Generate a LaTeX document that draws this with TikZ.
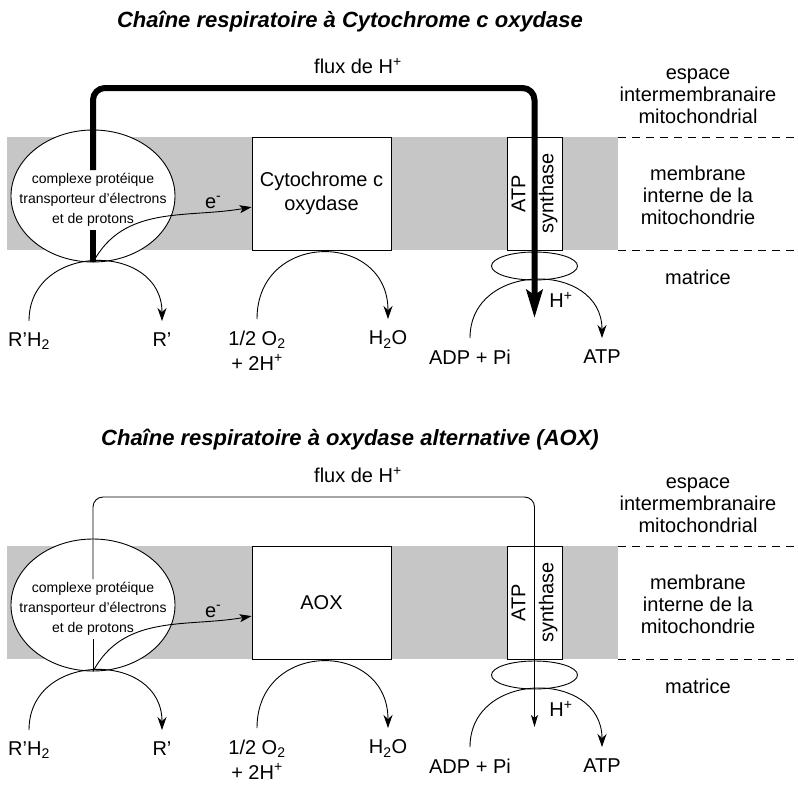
\documentclass[tikz,border=0pt]{standalone}
\usepackage{fontspec}
\setmainfont{Liberation Sans}
\usetikzlibrary{arrows.meta,shapes.geometric}

\tikzset{
	membrane/.style={fill=gray!45, draw=none},
	limite/.style={dash pattern=on 8pt off 6pt, line width=0.8pt},
	boite/.style={draw, fill=white, line width=0.9pt, inner sep=0pt, align=center, font=\fontsize{20}{24}\selectfont},
	complexe/.style={ellipse, draw, fill=white, line width=0.9pt, inner sep=0pt, minimum width=164pt, minimum height=132pt},
	sousunite/.style={ellipse, draw, fill=white, line width=0.9pt, inner sep=0pt, minimum width=86pt, minimum height=28pt},
	etiq/.style={align=center, inner sep=0pt, font=\fontsize{20}{22}\selectfont},
	petit/.style={align=center, inner xsep=0pt, inner ysep=3pt, font=\fontsize{14}{20}\selectfont},
	reac/.style={anchor=north, align=center, inner sep=0pt, outer ysep=12pt, font=\fontsize{20}{22}\selectfont},
	titre/.style={inner sep=0pt, font=\fontsize{22}{24}\selectfont\bfseries\itshape},
	reaction/.style={line width=0.9pt, -{Stealth[length=13pt,width=9pt,inset=4pt]}, out=90, in=90},
	electron/.style={line width=0.9pt, -{Stealth[length=12pt,width=8pt,inset=3pt]}},
	fluxfort/.style={line width=6pt, rounded corners=12pt, -{Stealth[length=28pt,width=16pt,inset=5pt]}},
	fluxfin/.style={line width=0.9pt, rounded corners=10pt, -{Stealth[length=12pt,width=7pt,inset=3pt]}},
}

% #1 prefixe des noms, #2 texte de l'oxydase, #3 style du flux de protons
\newcommand{\chaine}[3]{%
	\fill[membrane] (7,137) rectangle (618,250);
	\draw[limite] (618,137) -- (798,137) (618,250) -- (798,250);
	\node[boite, minimum width=139pt, minimum height=113pt] (#1-oxy) at (321.5,193.5) {#2};
	\node[boite, rotate=90, minimum width=113pt, minimum height=55pt] (#1-atps) at (534.5,193.5) {ATP\\[4pt]synthase};
	\node[sousunite] (#1-f1) at (534.5,266) {};
	\node[complexe] (#1-cplx) at (93,196) {};
	\node[petit] (#1-txt) at (93,200) {complexe protéique\\transporteur d'électrons\\et de protons};
	\node[etiq] (#1-flux) at (358,66) {flux de H\textsuperscript{+}};
	\node[etiq] (#1-espace) at (698,96) {espace\\intermembranaire\\mitochondrial};
	\node[etiq] (#1-memb) at (698,195) {membrane\\interne de la\\mitochondrie};
	\node[etiq] (#1-matrice) at (698,277) {matrice};
	\node[reac] (#1-rh2) at (29,321) {R'H\textsubscript{2}};
	\node[reac] (#1-r) at (162,321) {R'};
	\node[reac] (#1-o2) at (257,319) {1/2 O\textsubscript{2}\\[3pt]+ 2H\textsuperscript{+}};
	\node[reac] (#1-h2o) at (388,319) {H\textsubscript{2}O};
	\node[reac] (#1-adp) at (470,338) {ADP + Pi};
	\node[reac] (#1-atp) at (602,338) {ATP};
	\node[etiq] (#1-hlab) at (561,300) {H\textsuperscript{+}};
	\coordinate (#1-coin) at (93,88);
	\coordinate (#1-hplus) at (534.5,318);
	\draw[reaction, looseness=1.53] (#1-rh2) to (#1-r);
	\draw[reaction, looseness=1.73] (#1-o2) to (#1-h2o);
	\draw[reaction, looseness=1.5] (#1-adp) to (#1-atp);
	\draw[electron] (#1-cplx.south) to[out=62, in=190] node[etiq, pos=0.8, above=3pt] {e\textsuperscript{-}} (#1-oxy.191);
	\draw[#3, -] (#1-cplx.south) -- (#1-cplx.south |- #1-txt.south);
	\draw[#3] (#1-cplx.south |- #1-txt.north) -- (#1-coin) -| (#1-hplus);
}

\begin{document}
\begin{tikzpicture}[x=1pt, y=-1pt]
	\useasboundingbox (0,0) rectangle (798,801);
	\node[titre] (titre1) at (350,22) {Chaîne respiratoire à Cytochrome c oxydase};
	\node[titre] (titre2) at (350,440) {Chaîne respiratoire à oxydase alternative (AOX)};
	\chaine{c}{Cytochrome c\\oxydase}{fluxfort}
	\begin{scope}[yshift=-409pt]
		\chaine{a}{AOX}{fluxfin}
	\end{scope}
\end{tikzpicture}
\end{document}
